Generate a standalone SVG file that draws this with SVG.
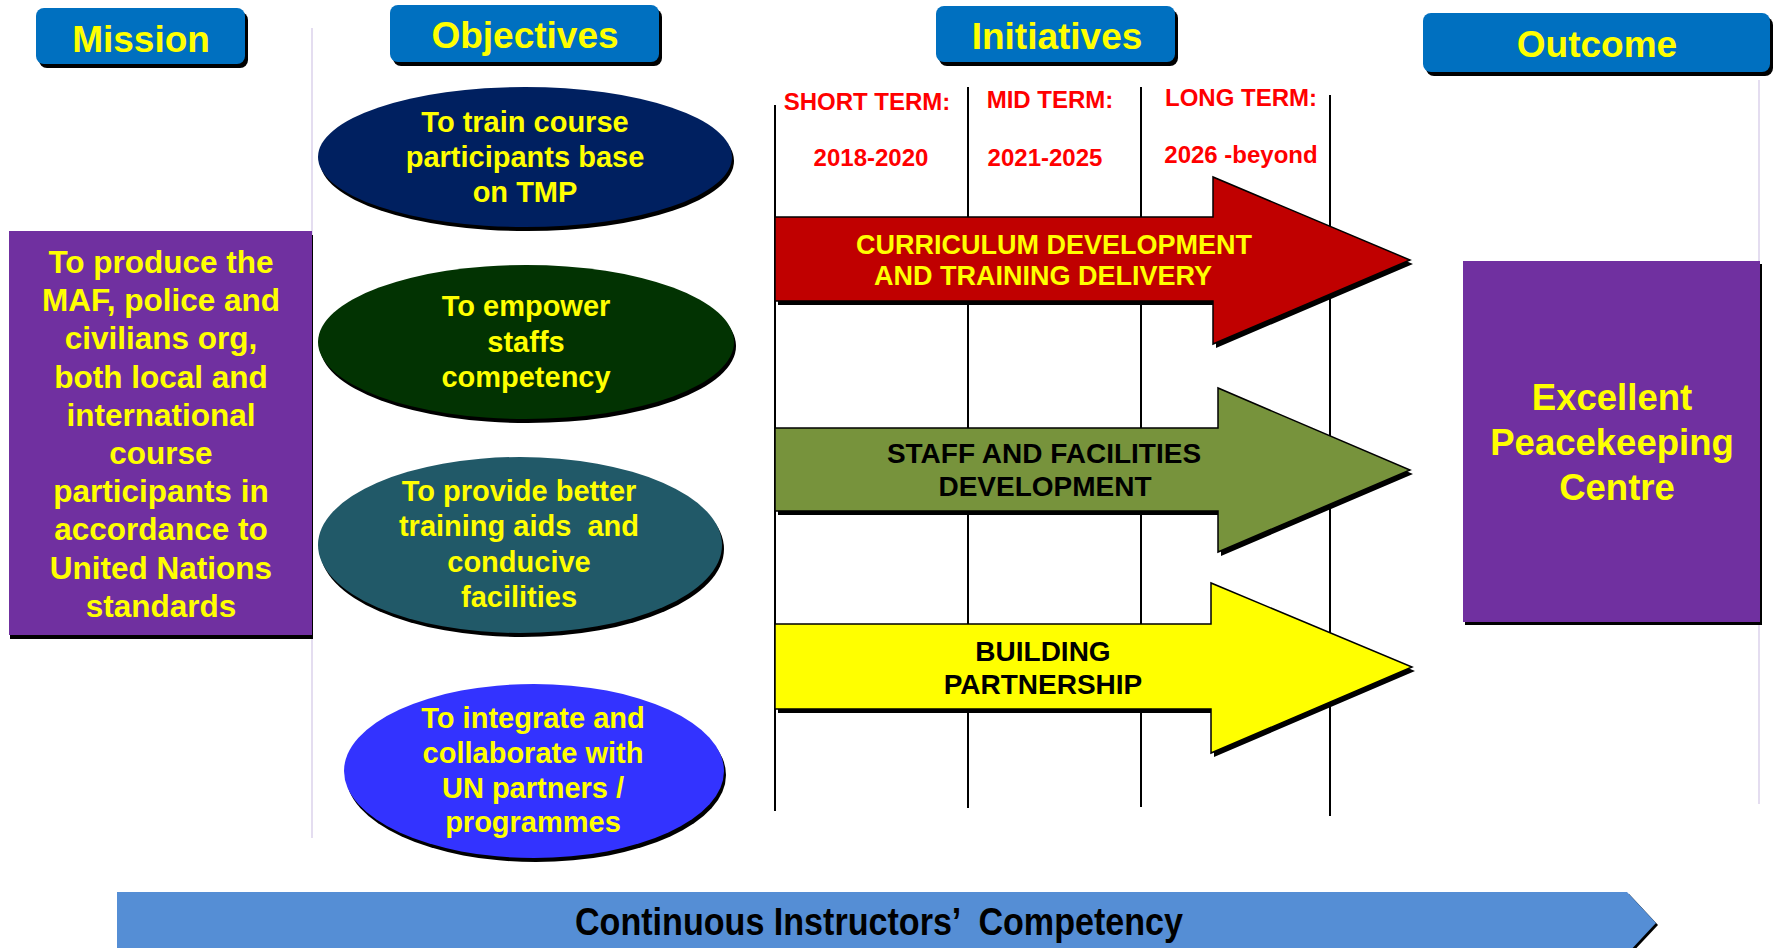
<svg xmlns="http://www.w3.org/2000/svg" width="1775" height="948" viewBox="0 0 1775 948">
<style>
text{font-family:"Liberation Sans",Arial,sans-serif;font-weight:bold;text-anchor:middle}
.hdr{fill:#0070C0}
.sh{fill:#000}
.ht{font-size:37px;fill:#FFFF00}
.yt{fill:#FFFF00}
.mt{font-size:31.5px;fill:#FFFF00}
.ot{font-size:29px;fill:#FFFF00}
.term{font-size:24px;fill:#FF0000}
.al{font-size:27px}
.al2{font-size:28px}
.vl{stroke:#000;stroke-width:2}
.div{stroke:#E4DDF0;stroke-width:2}
.ar{stroke:#000;stroke-width:1.5;stroke-linejoin:miter}
</style>
<rect width="1775" height="948" fill="#fff"/>
<g id="dividers">
<line class="div" x1="312" y1="28" x2="312" y2="838"/>
<line class="div" x1="1759" y1="80" x2="1759" y2="804"/>
</g>
<g id="hdr-mission">
<rect class="sh" x="39" y="12" width="209" height="56" rx="8"/>
<rect class="hdr" x="36" y="8" width="209" height="56" rx="8"/>
<text class="ht" x="141" y="52">Mission</text>
</g>
<g id="hdr-objectives">
<rect class="sh" x="393" y="9" width="269" height="57" rx="8"/>
<rect class="hdr" x="390" y="5" width="269" height="57" rx="8"/>
<text class="ht" x="525" y="48">Objectives</text>
</g>
<g id="hdr-initiatives">
<rect class="sh" x="939" y="10" width="239" height="56" rx="8"/>
<rect class="hdr" x="936" y="6" width="239" height="56" rx="8"/>
<text class="ht" x="1057" y="49">Initiatives</text>
</g>
<g id="hdr-outcome">
<rect class="sh" x="1426" y="17" width="347" height="59" rx="8"/>
<rect class="hdr" x="1423" y="13" width="347" height="59" rx="8"/>
<text class="ht" x="1597" y="57">Outcome</text>
</g>
<g id="mission">
<rect x="10" y="235" width="303" height="404" fill="#000"/>
<rect x="9" y="231" width="303" height="404" fill="#7030A0"/>
<text class="mt" x="161" y="273">To produce the</text>
<text class="mt" x="161" y="311">MAF, police and</text>
<text class="mt" x="161" y="349">civilians org,</text>
<text class="mt" x="161" y="388">both local and</text>
<text class="mt" x="161" y="426">international</text>
<text class="mt" x="161" y="464">course</text>
<text class="mt" x="161" y="502">participants in</text>
<text class="mt" x="161" y="540">accordance to</text>
<text class="mt" x="161" y="579">United Nations</text>
<text class="mt" x="161" y="617">standards</text>
</g>
<g id="obj1">
<ellipse cx="527" cy="161" rx="207" ry="70" fill="#000"/>
<ellipse cx="525" cy="157" rx="207" ry="70" fill="#002060"/>
<text class="ot" x="525" y="132">To train course</text>
<text class="ot" x="525" y="167">participants base</text>
<text class="ot" x="525" y="202">on TMP</text>
</g>
<g id="obj2">
<ellipse cx="528" cy="346" rx="208" ry="77" fill="#000"/>
<ellipse cx="526" cy="342" rx="208" ry="77" fill="#023302"/>
<text class="ot" x="526" y="316">To empower</text>
<text class="ot" x="526" y="352">staffs</text>
<text class="ot" x="526" y="387">competency</text>
</g>
<g id="obj3">
<ellipse cx="522" cy="549" rx="202" ry="88" fill="#000"/>
<ellipse cx="520" cy="545" rx="202" ry="88" fill="#215968"/>
<text class="ot" x="519" y="501">To provide better</text>
<text class="ot" x="519" y="536" xml:space="preserve">training aids  and</text>
<text class="ot" x="519" y="572">conducive</text>
<text class="ot" x="519" y="607">facilities</text>
</g>
<g id="obj4">
<ellipse cx="536" cy="775" rx="190" ry="87" fill="#000"/>
<ellipse cx="534" cy="771" rx="190" ry="87" fill="#3333FF"/>
<text class="ot" x="533" y="728">To integrate and</text>
<text class="ot" x="533" y="763">collaborate with</text>
<text class="ot" x="533" y="798">UN partners /</text>
<text class="ot" x="533" y="832">programmes</text>
</g>
<g id="timeline">
<line class="vl" x1="775" y1="105" x2="775" y2="811"/>
<line class="vl" x1="968" y1="87" x2="968" y2="808"/>
<line class="vl" x1="1141" y1="87" x2="1141" y2="807"/>
<line class="vl" x1="1330" y1="95" x2="1330" y2="816"/>
<text class="term" x="867" y="110">SHORT TERM:</text>
<text class="term" x="871" y="166">2018-2020</text>
<text class="term" x="1050" y="108">MID TERM:</text>
<text class="term" x="1045" y="166">2021-2025</text>
<text class="term" x="1241" y="106">LONG TERM:</text>
<text class="term" x="1241" y="163">2026 -beyond</text>
</g>
<g id="arrow-curriculum">
<polygon class="sh" transform="translate(3,4)" points="775,217 1213,217 1213,177 1410,260 1213,344 1213,301 775,301"/>
<polygon class="ar" fill="#C00000" points="775,217 1213,217 1213,177 1410,260 1213,344 1213,301 775,301"/>
<text class="al yt" x="1054" y="254">CURRICULUM DEVELOPMENT</text>
<text class="al yt" x="1043" y="285">AND TRAINING DELIVERY</text>
</g>
<g id="arrow-staff">
<polygon class="sh" transform="translate(3,4)" points="775,428 1218,428 1218,388 1410,470 1218,552 1218,511 775,511"/>
<polygon class="ar" fill="#77933C" points="775,428 1218,428 1218,388 1410,470 1218,552 1218,511 775,511"/>
<text class="al2" x="1044" y="463" fill="#000">STAFF AND FACILITIES</text>
<text class="al2" x="1045" y="496" fill="#000">DEVELOPMENT</text>
</g>
<g id="arrow-partnership">
<polygon class="sh" transform="translate(3,4)" points="775,624 1211,624 1211,583 1412,667 1211,753 1211,709 775,709"/>
<polygon class="ar" fill="#FFFF00" points="775,624 1211,624 1211,583 1412,667 1211,753 1211,709 775,709"/>
<text class="al2" x="1043" y="661" fill="#000">BUILDING</text>
<text class="al2" x="1043" y="694" fill="#000">PARTNERSHIP</text>
</g>
<g id="outcome">
<rect x="1465" y="264" width="297" height="361" fill="#000"/>
<rect x="1463" y="261" width="297" height="361" fill="#7030A0"/>
<text class="yt" x="1612" y="410" font-size="36.5">Excellent</text>
<text class="yt" x="1612" y="455" font-size="36.5">Peacekeeping</text>
<text class="yt" x="1617" y="500" font-size="36.5">Centre</text>
</g>
<g id="competency-bar">
<polygon points="119,894 1629,894 1658,925 1629,956 119,956" fill="#000"/>
<polygon points="117,892 1627,892 1656,923 1627,954 117,954" fill="#558ED5"/>
<text x="575" y="935" font-size="38" style="text-anchor:start" textLength="608" lengthAdjust="spacingAndGlyphs" xml:space="preserve" fill="#000">Continuous Instructors’  Competency</text>
</g>
</svg>
